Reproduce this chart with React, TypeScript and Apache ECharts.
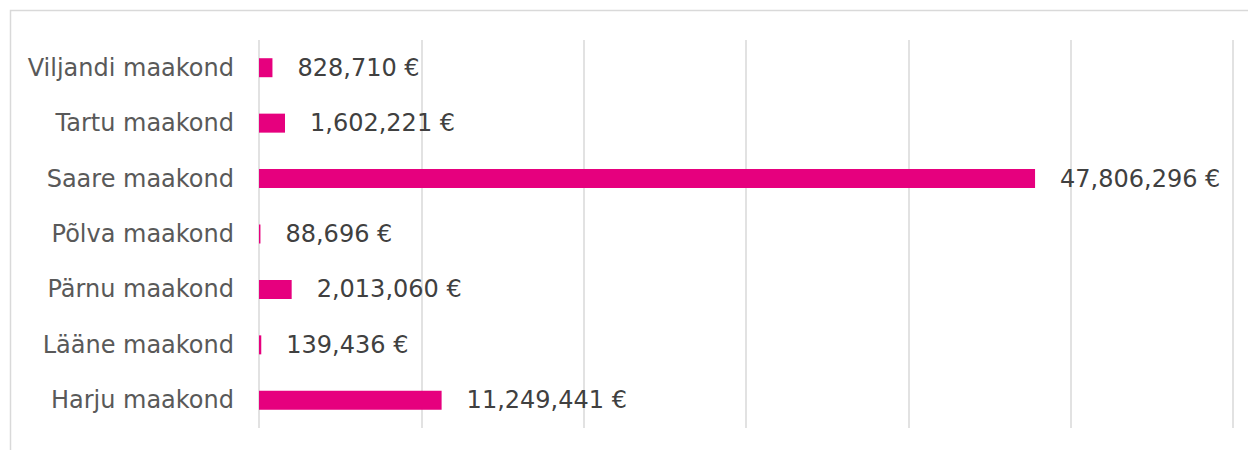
import React, { useEffect, useRef } from "react";
import * as echarts from "echarts";

const categories = [
  "Harju maakond",
  "Lääne maakond",
  "Pärnu maakond",
  "Põlva maakond",
  "Saare maakond",
  "Tartu maakond",
  "Viljandi maakond",
];
const values = [11249441, 139436, 2013060, 88696, 47806296, 1602221, 828710];

const fmt = (v: number) =>
  v.toString().replace(/\B(?=(\d{3})+(?!\d))/g, ",") + " €";

export default function App() {
  const ref = useRef<HTMLDivElement>(null);
  useEffect(() => {
    const chart = echarts.init(ref.current!, undefined, { renderer: "svg" });
    chart.setOption({
      animation: false,
      graphic: [
        {
          type: "rect",
          shape: { x: 10.5, y: 10.5, width: 1300, height: 500 },
          style: { fill: "none", stroke: "#d9d9d9", lineWidth: 1.5 },
          silent: true,
        },
      ],
      grid: { left: 259, right: 15, top: 40, bottom: 22, containLabel: false },
      xAxis: {
        type: "value",
        min: 0,
        max: 60000000,
        interval: 10000000,
        axisLabel: { show: false },
        axisLine: { show: false },
        axisTick: { show: false },
        splitLine: { show: true, lineStyle: { color: "#d9d9d9", width: 1.5 } },
      },
      yAxis: {
        type: "category",
        data: categories,
        axisLine: { show: false },
        axisTick: { show: false },
        axisLabel: {
          color: "#595959",
          fontSize: 24,
          fontFamily: "DejaVu Sans",
          margin: 25,
        },
      },
      series: [
        {
          type: "bar",
          data: values,
          barWidth: 19,
          itemStyle: { color: "#e6007e" },
          label: {
            show: true,
            position: "right",
            distance: 25,
            color: "#404040",
            fontSize: 24,
            fontFamily: "DejaVu Sans",
            formatter: (p: any) => fmt(p.value),
          },
        },
      ],
    });
    return () => chart.dispose();
  }, []);
  return (
    <div
      ref={ref}
      style={{ position: "absolute", left: 0, top: 0, width: 1248, height: 450 }}
    />
  );
}
